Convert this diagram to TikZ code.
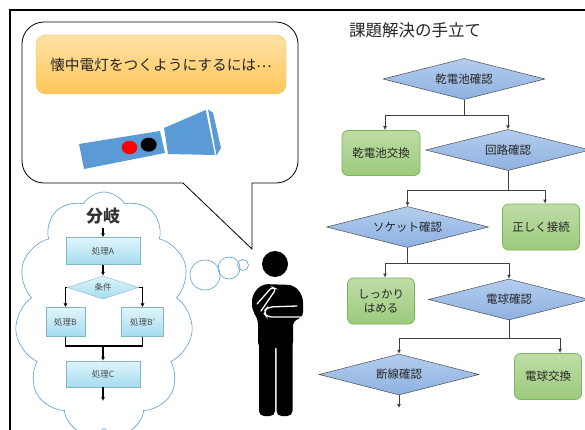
\documentclass[tikz,border=0pt]{standalone}
\usepackage{fontspec}
\setmainfont{Noto Sans CJK JP}
\usetikzlibrary{arrows.meta}
\usetikzlibrary{shapes.geometric,shapes.symbols}
\usetikzlibrary{positioning}

\definecolor{lampblue}{HTML}{5B9BD5}
\definecolor{askedge}{HTML}{F2BF45}
\definecolor{asktop}{HTML}{FFE2A6}
\definecolor{askbot}{HTML}{FFC65A}
\definecolor{chktop}{HTML}{B4CDEE}
\definecolor{chkbot}{HTML}{8DB1E0}
\definecolor{fixtop}{HTML}{BEDDA6}
\definecolor{fixbot}{HTML}{9CCA7C}
\definecolor{fixedge}{HTML}{7DB55A}
\definecolor{proctop}{HTML}{E0F5FC}
\definecolor{procbot}{HTML}{A5DCEF}
\definecolor{procedge}{HTML}{86B6C6}

\tikzset{
	check/.style={diamond, aspect=4, draw=black!80, top color=chktop, bottom color=chkbot, minimum width=162pt, minimum height=41pt, inner sep=0pt, text=black!85, font=\fontsize{11.5}{13}\selectfont},
	fixbox/.style={rectangle, rounded corners=6pt, draw=fixedge, line width=0.8pt, top color=fixtop, bottom color=fixbot, minimum width=77pt, minimum height=46pt, inner sep=0pt, align=center, text=black!85, font=\fontsize{11.5}{14}\selectfont},
	proc/.style={rectangle, draw=procedge, top color=proctop, bottom color=procbot, inner sep=0pt, text=black!70, font=\fontsize{8.5}{10}\selectfont},
	link/.style={draw=black!75, line width=0.8pt},
	pipe/.style={draw=black, line width=1.6pt}
}

\begin{document}
\begin{tikzpicture}[x=1pt, y=-1pt, >={Latex[length=4pt,width=4pt]}]
			\useasboundingbox (0,0) rectangle (585,430);
			\draw [line width=1.6pt] (10,440) -- (10,10) -- (595,10);
			\draw [line width=0.8pt] (183,183) -- (44,183) arc[start angle=90, end angle=180, radius=22] -- (22,44) arc[start angle=180, end angle=270, radius=22] -- (276,22) arc[start angle=270, end angle=360, radius=22] -- (298,161) arc[start angle=0, end angle=90, radius=22] -- (252,183) -- (252,249) -- cycle;
			\node[rectangle, rounded corners=10pt, draw=askedge, top color=asktop, bottom color=askbot, minimum width=250pt, minimum height=59pt, font=\fontsize{14.7}{16}\selectfont, text=black!85] (ask) at (161,64.5) {懐中電灯をつくようにするには\raisebox{0.35ex}{…}};
			\fill [lampblue] (79,144) -- (160,131) -- (165,153) -- (84,169) -- cycle;
			\fill [lampblue] (164,128) -- (205.7,110) -- (215,155) -- (168,154) -- cycle;
			\fill [lampblue] (208,109.5) -- (213,112.7) -- (221,148) -- (216.5,155.5) -- cycle;
			\fill [red] (129.5,147.5) ellipse [x radius=7.8, y radius=6.7];
			\fill [black] (148.7,144.7) ellipse [x radius=8, y radius=7];
			\node[cloud, draw=lampblue, line width=0.6pt, cloud puffs=11, cloud puff arc=120, cloud ignores aspect, minimum width=178pt, minimum height=244pt] (thk) at (104,314) {};
			\draw [lampblue, line width=0.6pt] (205,275) circle (15);
			\draw [lampblue, line width=0.6pt] (229,268) circle (11);
			\draw [lampblue, line width=0.6pt] (243,265) circle (5.5);
			\node[font=\fontsize{17}{18}\selectfont\bfseries, text=black!80] (br) at (103,216) {分岐};
			\node[proc, minimum width=74pt, minimum height=27pt] (pa) at (103,251) {処理A};
			\draw [pipe, ->] (br) -- (pa);
			\node[proc, diamond, aspect=3, minimum width=71pt, minimum height=23pt] (cd) at (103,287.5) {条件};
			\draw [pipe, ->] (pa) -- (cd);
			\node[proc, minimum width=39pt, minimum height=29pt] (pb) at (65.5,322) {処理B};
			\draw [pipe, ->] (cd.west) -| (pb.north);
			\node[proc, minimum width=42pt, minimum height=29pt] (pbb) at (142.5,322) {処理B'};
			\draw [pipe, ->] (cd.east) -| (pbb.north);
			\coordinate (mrg) at (103,346);
			\draw [pipe] (pb.south) |- (mrg) -| (pbb.south);
			\node[proc, minimum width=74pt, minimum height=26pt] (pc) at (103,374) {処理C};
			\draw [pipe, ->] (mrg) -- (pc);
			\coordinate (cend) at (103,401);
			\draw [pipe, ->] (pc) -- (cend);
			\fill (275,264) circle (13);
			\fill [rounded corners=6] (258,348) -- (258,318) -- (252,311) -- (252,295) -- (262,284) -- (294,285) -- (303,296) -- (303,318) -- (293,320) -- (293,348) -- cycle;
			\fill [rounded corners=5] (259,340) rectangle (275,416);
			\fill [rounded corners=5] (276.5,340) rectangle (292.5,416);
			\draw [white, line width=1.3pt, line cap=round, rounded corners=3] (257,304) -- (272,287) -- (276,289) -- (261,311);
			\draw [white, line width=1.3pt, line cap=round, rounded corners=5] (297,306) -- (268,307) -- (263,312) -- (267,317) -- (301,317);
			\node[font=\fontsize{16.5}{18}\selectfont, text=black!85] (ttl) at (415,30) {課題解決の手立て};
			\node[check] (bat) at (464,79) {乾電池確認};
			\node[fixbox, minimum width=78pt, minimum height=45pt] (batx) at (381,153) {乾電池交換};
			\draw [link, ->] (bat.south) -- ++(0,16) -| ([xshift=4pt]batx.north);
			\node[check, minimum width=165pt] (cir) at (508,150) {回路確認};
			\draw [link, ->] (bat.south) -- ++(0,16) -| (cir.north);
			\node[check] (sock) at (407.5,227) {ソケット確認};
			\draw [link, ->] (cir.south) -- ++(0,20) -| (sock.north);
			\node[fixbox] (ok) at (541,227) {正しく接続};
			\draw [link, ->] (cir.south) -- ++(0,20) -| ([xshift=4pt]ok.north);
			\node[fixbox, minimum width=67pt] (fit) at (381,301) {しっかり\\はめる};
			\draw [link, ->] (sock.south) -- ++(0,16) -| ([xshift=4pt]fit.north);
			\node[check, minimum width=161pt] (bulb) at (509,299.5) {電球確認};
			\draw [link, ->] (sock.south) -- ++(0,16) -| (bulb.north);
			\node[check, minimum width=160pt] (wire) at (399,374.5) {断線確認};
			\draw [link, ->] (bulb.south) -- ++(0,18) -| (wire.north);
			\node[fixbox, minimum width=67pt] (bulbx) at (548,376.5) {電球交換};
			\draw [link, ->] (bulb.south) -- ++(0,18) -| ([xshift=12pt]bulbx.north);
			\coordinate (wend) at (399,408);
			\draw [link, ->] (wire.south) -- (wend);
		\end{tikzpicture}
\end{document}
